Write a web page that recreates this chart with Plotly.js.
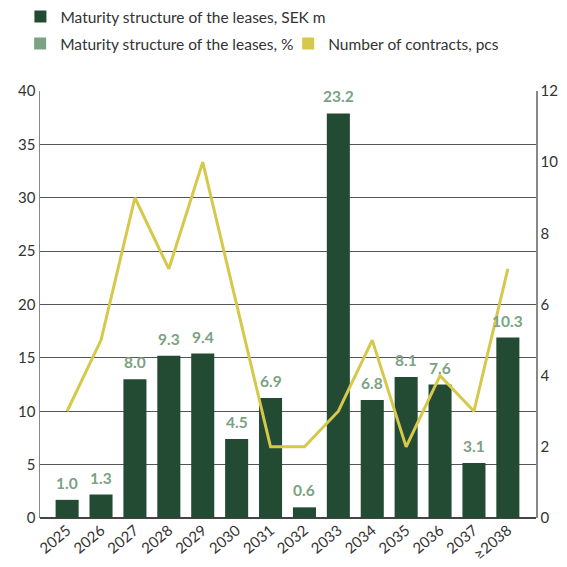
<!DOCTYPE html>
<html><head><meta charset="utf-8">
<script src="https://cdn.plot.ly/plotly-3.0.1.min.js"></script>
<style>html,body{margin:0;padding:0;background:#fff}#chart{width:567px;height:567px}</style>
</head><body><div id="chart"></div>
<script>
const years = ["2025","2026","2027","2028","2029","2030","2031","2032","2033","2034","2035","2036","2037","≥2038"];
const sekM = [1.7, 2.2, 13.0, 15.2, 15.4, 7.4, 11.25, 1.0, 37.9, 11.05, 13.2, 12.5, 5.15, 16.9];
const pctLabels = ["1.0","1.3","8.0","9.3","9.4","4.5","6.9","0.6","23.2","6.8","8.1","7.6","3.1","10.3"];
const contracts = [3, 5, 9, 7, 10, 6, 2, 2, 3, 5, 2, 4, 3, 7];

const dark = "#234a33", light = "#7aa283", yellow = "#d6c84a";
const fontFam = "Lato, 'Noto Sans', sans-serif";

const traces = [
  {type:"bar", x:years, y:sekM, name:"Maturity structure of the leases, SEK m",
   marker:{color:dark}, width:0.68, legend:"legend"},
  {type:"bar", x:years, y:years.map(()=>null), name:"Maturity structure of the leases, %",
   marker:{color:light}, legend:"legend2", hoverinfo:"skip"},
  {type:"bar", x:years, y:years.map(()=>null), name:"Number of contracts, pcs",
   marker:{color:yellow}, legend:"legend2", yaxis:"y2", hoverinfo:"skip"},
  {type:"scatter", mode:"lines", x:years, y:contracts, yaxis:"y2", name:"Number of contracts, pcs",
   line:{color:yellow, width:3}, showlegend:false}
];

const pctAnnotations = years.map((yr, i) => ({
  x: i, y: sekM[i], xref:"x", yref:"y", text: pctLabels[i], showarrow:false,
  yanchor:"bottom", yshift:6, font:{color:light, size:15.5, family:fontFam, weight:700}
}));

const legFont = {size:15.5, color:"#333", family:fontFam};
const layout = {
  width:567, height:567,
  margin:{l:40, r:31, t:91, b:49},
  paper_bgcolor:"#fff", plot_bgcolor:"#fff",
  font:{family:fontFam, color:"#333", size:15},
  barmode:"overlay",
  showlegend:true,
  legend:{orientation:"h", x:0.036, xref:"container", xanchor:"left", y:1, yref:"container", yanchor:"top",
    font:legFont, bgcolor:"rgba(0,0,0,0)", traceorder:"normal", itemwidth:30},
  legend2:{orientation:"h", x:-0.04, xanchor:"left", y:1.15, yanchor:"top",
    font:legFont, bgcolor:"rgba(0,0,0,0)", traceorder:"normal", itemwidth:30,
    entrywidth:223, entrywidthmode:"pixels"},
  annotations: pctAnnotations,
  xaxis:{type:"category", range:[-0.8, 13.83], tickangle:-40, showgrid:false, showline:false, ticks:"",
    tickfont:{size:15, color:"#333"}, zeroline:false},
  yaxis:{range:[0,40], dtick:5, showgrid:true, gridcolor:"#555", gridwidth:1.2,
    zeroline:true, zerolinecolor:"#444", zerolinewidth:1.5,
    showline:true, linecolor:"#888", linewidth:1.5, ticks:"", tickfont:{size:15, color:"#333"}},
  yaxis2:{range:[0,12], dtick:2, overlaying:"y", side:"right", showgrid:false, zeroline:false,
    showline:true, linecolor:"#888", linewidth:1.5, ticks:"", tickfont:{size:15, color:"#333"}}
};

Plotly.newPlot("chart", traces, layout, {displayModeBar:false, staticPlot:true});
</script></body></html>
